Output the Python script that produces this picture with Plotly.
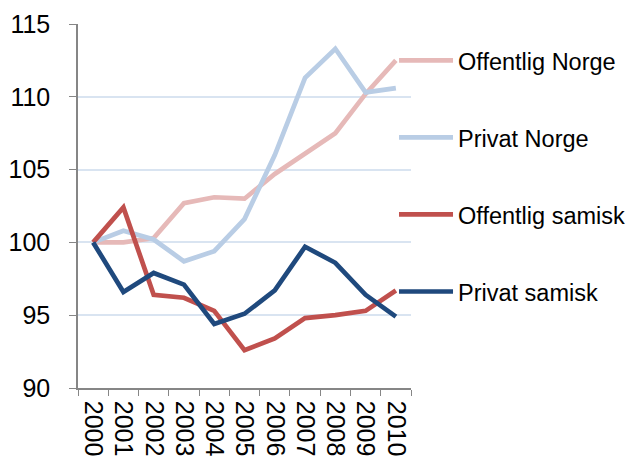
import plotly.graph_objects as go

years = ["2000", "2001", "2002", "2003", "2004", "2005", "2006", "2007", "2008", "2009", "2010"]

offentlig_norge = [100.0, 100.0, 100.3, 102.7, 103.1, 103.0, 104.7, 106.1, 107.5, 110.2, 112.5]
privat_norge = [100.0, 100.8, 100.2, 98.7, 99.4, 101.6, 106.0, 111.3, 113.3, 110.3, 110.6]
offentlig_samisk = [100.0, 102.4, 96.4, 96.2, 95.3, 92.6, 93.4, 94.8, 95.0, 95.3, 96.7]
privat_samisk = [100.0, 96.6, 97.9, 97.1, 94.4, 95.1, 96.7, 99.7, 98.6, 96.4, 94.9]

series = [
    ("Offentlig Norge", offentlig_norge, "#E6B9B8"),
    ("Privat Norge", privat_norge, "#B9CDE5"),
    ("Offentlig samisk", offentlig_samisk, "#C0504D"),
    ("Privat samisk", privat_samisk, "#1F497D"),
]

FONT = "Liberation Sans, Arial, sans-serif"

fig = go.Figure()
for i, (name, vals, color) in enumerate(series):
    fig.add_trace(go.Scatter(
        x=years, y=vals, mode="lines", name=name,
        line=dict(color=color, width=4.7),
        legendgroup=f"g{i}",
    ))

# the page body adds an 8px margin, so the figure is 8px smaller than the window
fig.update_layout(
    width=625, height=448,
    paper_bgcolor="white", plot_bgcolor="white",
    font=dict(family=FONT, size=24, color="black"),
    margin=dict(l=70, r=222, t=16, b=68, autoexpand=False),
    showlegend=True,
    legend=dict(
        x=0.949, xanchor="left", y=0.96, yanchor="top",
        bgcolor="rgba(0,0,0,0)", font=dict(size=23.5),
        itemwidth=54, tracegroupgap=43.5,
    ),
    xaxis=dict(
        type="category", range=[-0.5, 10.5],
        tickmode="array", tickvals=years,
        showgrid=False, zeroline=False, automargin=False,
        showline=True, linecolor="#868686", linewidth=1.5,
        ticks="outside", tickson="boundaries", ticklen=6, tickcolor="#868686",
        tickangle=90, ticklabelstandoff=6, tickfont=dict(size=25),
    ),
    yaxis=dict(
        range=[90, 115], tickvals=[90, 95, 100, 105, 110, 115],
        showgrid=True, gridcolor="#D9E4F1", gridwidth=1.5, zeroline=False,
        automargin=False,
        showline=True, linecolor="#868686", linewidth=1.5,
        ticks="outside", ticklen=7, tickcolor="#868686",
        ticklabelstandoff=14, tickfont=dict(size=25),
    ),
)

fig.write_html("out.html")
